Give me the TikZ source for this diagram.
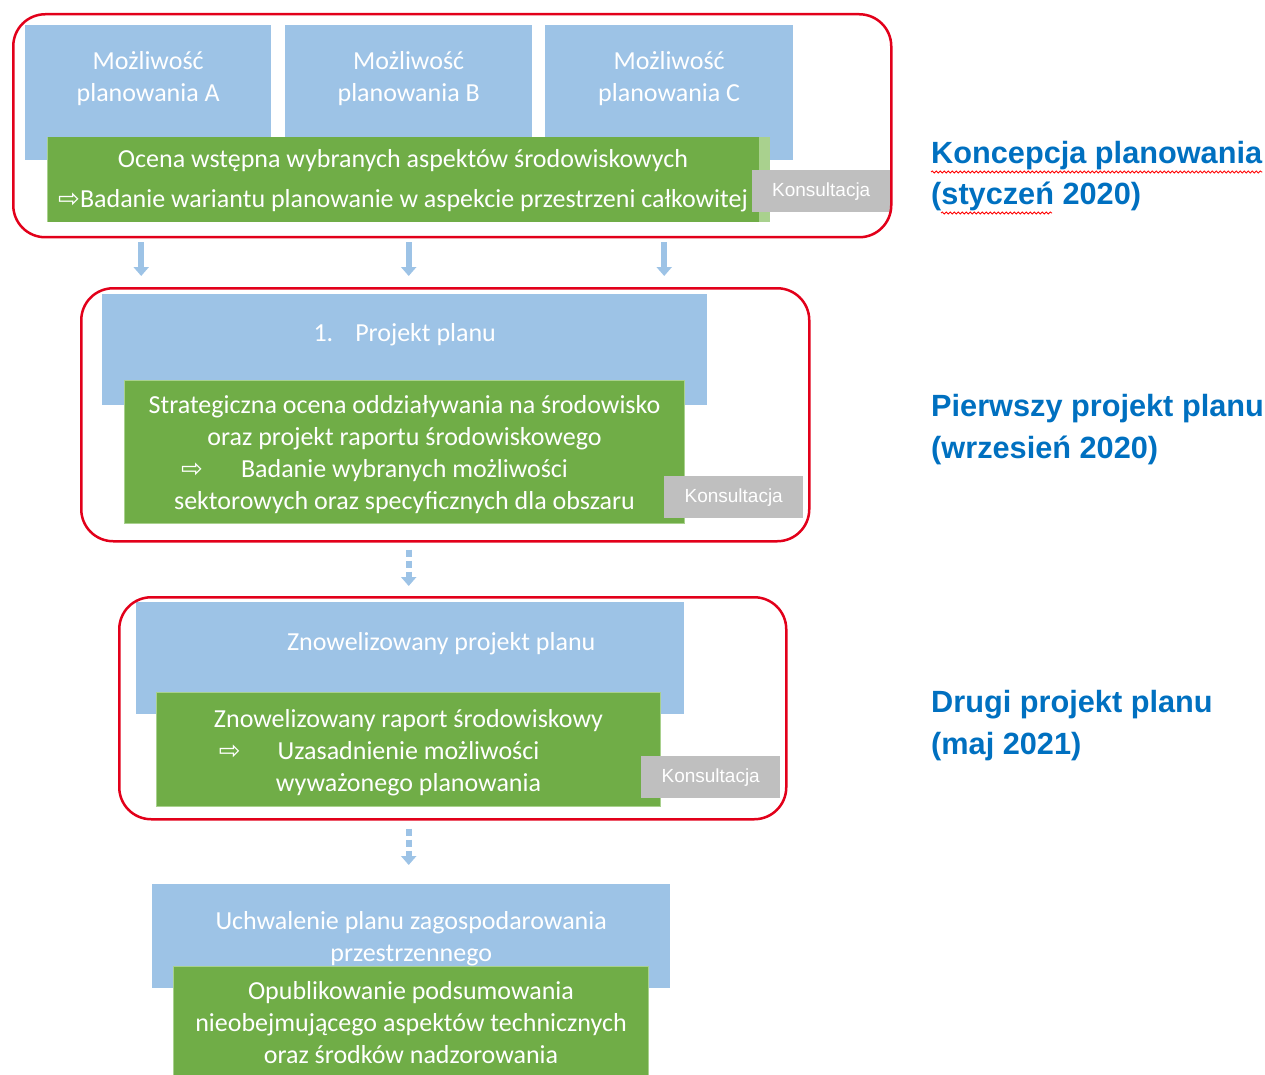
\documentclass[tikz,border=0pt]{standalone}
\usepackage{fontspec}
\setmainfont{Carlito}
\newfontfamily\arialfont{Liberation Sans}
\newfontfamily\strzalkafont{DejaVu Sans}
\usetikzlibrary{positioning,calc,arrows.meta,decorations.pathmorphing}

\definecolor{boxblue}{RGB}{157,195,230}
\definecolor{boxgreen}{RGB}{112,173,71}
\definecolor{lightgreen}{RGB}{169,209,142}
\definecolor{consgray}{RGB}{191,191,191}
\definecolor{framered}{RGB}{226,0,26}
\definecolor{phaseblue}{RGB}{0,112,192}

\newcommand{\blockfont}{\fontsize{26}{32}\selectfont}
\newcommand{\konsfont}{\arialfont\fontsize{19}{22}\selectfont}
\newcommand{\etapfont}{\arialfont\bfseries\fontsize{30.7}{41}\selectfont}
\newcommand{\strzalka}{{\strzalkafont ⇨}}

\begin{document}
\begin{tikzpicture}[
        x=1pt, y=-1pt,
        bluebox/.style = {fill=boxblue, inner sep=0, anchor=north west},
        greenbox/.style = {fill=boxgreen, draw=lightgreen, line width=1pt, inner sep=0, anchor=north west},
        konsbox/.style = {fill=consgray, text=white, font=\konsfont, inner sep=0, anchor=north west,
                          minimum width=139, minimum height=42},
        frame/.style = {draw=framered, line width=2.5pt, rounded corners=32pt, inner sep=0, anchor=north west},
        blocktext/.style = {text=white, font=\blockfont, align=center, inner sep=0, anchor=base},
        etap/.style = {text=phaseblue, font=\etapfont, inner sep=0, anchor=base west},
        flow/.style = {draw=boxblue, line width=6pt, -{Triangle[width=15pt,length=9pt]}},
        flowdashed/.style = {flow, dash pattern=on 7pt off 4pt},
        spell/.style = {draw=red, line width=0.8pt, decorate, decoration={snake, amplitude=1.1pt, segment length=4pt}}
    ]
        \useasboundingbox (0,0) rectangle (1265,1075);

        % Koncepcja planowania
        \node[bluebox, minimum width=246, minimum height=135] (optA) at (25,25) {};
        \node[bluebox, minimum width=247, minimum height=135] (optB) at (285,25) {};
        \node[bluebox, minimum width=248, minimum height=135] (optC) at (545,25) {};
        \node[blocktext] (txtA) at ([yshift=-77pt]optA.north) {Możliwość\\planowania A};
        \node[blocktext] (txtB) at ([yshift=-77pt]optB.north) {Możliwość\\planowania B};
        \node[blocktext] (txtC) at ([yshift=-77pt]optC.north) {Możliwość\\planowania C};
        \node[bluebox, fill=lightgreen, minimum width=723, minimum height=85] (evalstrip) at (47,137) {};
        \node[greenbox, draw=none, minimum width=711, minimum height=85] (eval1) at (47,137) {};
        \node[blocktext] (txtE1) at ([yshift=-71pt]eval1.north) {Ocena wstępna wybranych aspektów środowiskowych\\[8pt]
            \strzalka Badanie wariantu planowanie w aspekcie przestrzeni całkowitej};
        \node[konsbox, minimum width=138] (kons1) at (752,170) {Konsultacja};
        \node[frame, minimum width=878, minimum height=223] (frame1) at (12,13) {};

        % Pierwszy projekt planu
        \node[bluebox, minimum width=605, minimum height=111] (proj1) at (102,294) {};
        \node[blocktext] (txtP1) at ([yshift=-47pt]proj1.north) {1.\hspace{22pt}Projekt planu};
        \node[greenbox, minimum width=560, minimum height=143] (eval2) at (124,380) {};
        \node[blocktext] (txtE2) at ([yshift=-129pt]eval2.north) {Strategiczna ocena oddziaływania na środowisko\\
            oraz projekt raportu środowiskowego\\
            \llap{\strzalka\hspace{38pt}}Badanie wybranych możliwości\\
            sektorowych oraz specyficznych dla obszaru};
        \node[konsbox] (kons2) at (664,476) {Konsultacja};
        \node[frame, minimum width=728, minimum height=253] (frame2) at (80,287) {};

        % Drugi projekt planu
        \node[bluebox, minimum width=548, minimum height=112] (proj2) at (136,602) {};
        \node[blocktext] (txtP2) at ($(proj2.north)+(31,48)$) {Znowelizowany projekt planu};
        \node[greenbox, minimum width=504, minimum height=114] (eval3) at (156,692) {};
        \node[blocktext] (txtE3) at ([yshift=-99pt]eval3.north) {Znowelizowany raport środowiskowy\\
            \llap{\strzalka\hspace{37pt}}Uzasadnienie możliwości\\
            wyważonego planowania};
        \node[konsbox] (kons3) at (641,756) {Konsultacja};
        \node[frame, minimum width=667, minimum height=222] (frame3) at (118,596) {};

        % Uchwalenie planu
        \node[bluebox, minimum width=518, minimum height=104] (final) at (152,884) {};
        \node[blocktext] (txtF) at ([yshift=-77pt]final.north) {Uchwalenie planu zagospodarowania\\przestrzennego};
        \node[greenbox, minimum width=475, minimum height=112] (publ) at (173,966) {};
        \node[blocktext] (txtPub) at ([yshift=-97pt]publ.north) {Opublikowanie podsumowania\\
            nieobejmującego aspektów technicznych\\
            oraz środków nadzorowania};

        % Strzałki
        \draw[flow] ($(frame1.south -| optA)+(-7,4)$) -- ($(frame2.north -| optA)+(-7,-11)$);
        \draw[flow] ($(frame1.south -| optB)+(0,4)$) -- ($(frame2.north -| optB)+(0,-11)$);
        \draw[flow] ($(frame1.south -| optC)+(-5,4)$) -- ($(frame2.north -| optC)+(-5,-11)$);
        \draw[flowdashed] ($(frame2.south -| optB)+(0,7)$) -- ($(frame3.north -| optB)+(0,-10)$);
        \draw[flowdashed] ($(frame3.south -| optB)+(0,8)$) -- ($(final.north -| optB)+(0,-19)$);

        % Etapy
        \node[etap] (lab1a) at (931,164) {Koncepcja planowania};
        \node[etap] (lab1b) at (931,205) {(styczeń 2020)};
        \node[etap] (lab2a) at (931,416) {Pierwszy projekt planu};
        \node[etap] (lab2b) at (931,458) {(wrzesień 2020)};
        \node[etap] (lab3a) at (931,712) {Drugi projekt planu};
        \node[etap] (lab3b) at (931,754) {(maj 2021)};
        \draw[spell] ($(lab1a.base west)+(0,8)$) -- ($(lab1a.base east)+(0,8)$);
        \draw[spell] ($(lab1b.base west)+(10,8)$) -- ($(lab1b.base west)+(121,8)$);
    \end{tikzpicture}
\end{document}
